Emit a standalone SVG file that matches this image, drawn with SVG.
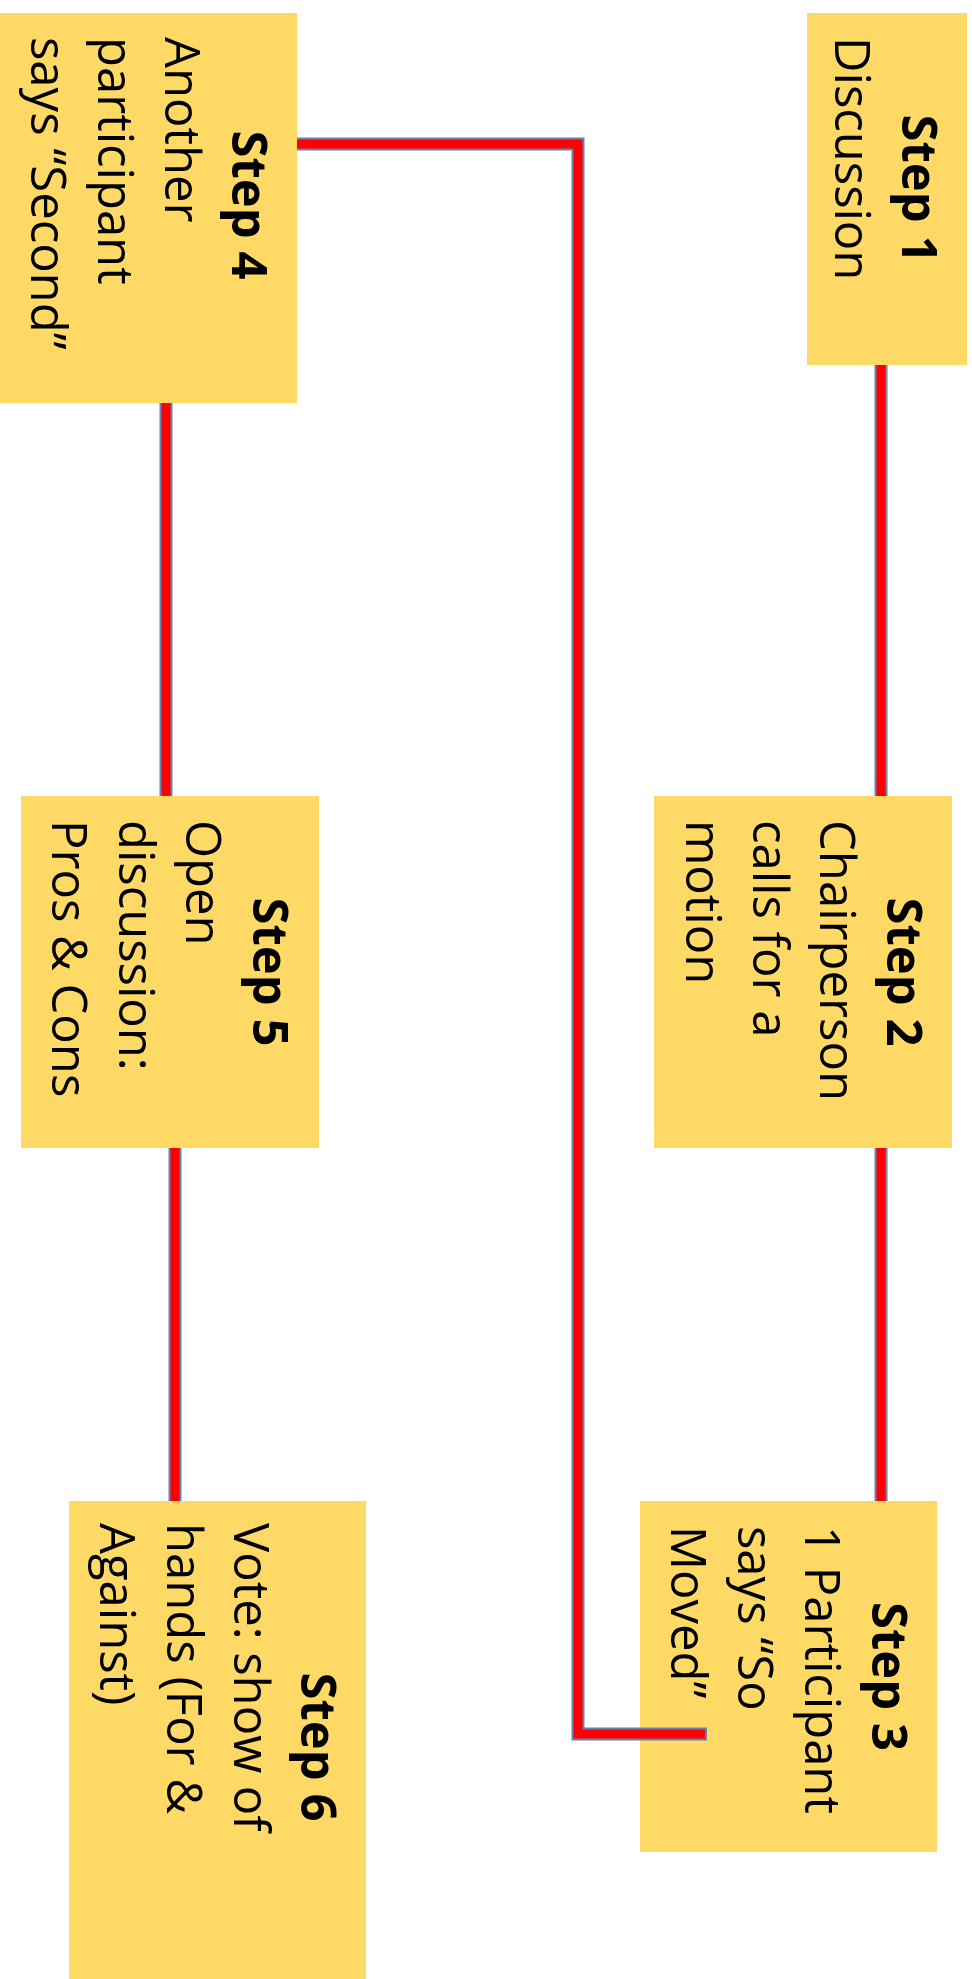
<svg xmlns="http://www.w3.org/2000/svg" width="972" height="1979" viewBox="0 0 972 1979">
<style>
.box{fill:#FFD966;}
.t{font-family:"Open Sans","Noto Sans",sans-serif;font-size:49px;fill:#000;}
.h{font-weight:bold;text-anchor:middle;}
.edge-o{fill:none;stroke:#6283ad;stroke-width:13;stroke-linejoin:miter;}
.edge-i{fill:none;stroke:#ff0000;stroke-width:9;stroke-linejoin:miter;}
</style>
<rect width="972" height="1979" fill="#ffffff"/>
<g id="step1">
<rect class="box" x="807" y="13" width="160" height="352"/>
<text class="t h" transform="translate(902,189) rotate(90)">Step 1</text>
<text class="t" transform="translate(835,37) rotate(90)">Discussion</text>
</g>
<g id="step2">
<rect class="box" x="654" y="796" width="298" height="352"/>
<text class="t h" transform="translate(887,972) rotate(90)">Step 2</text>
<text class="t" transform="translate(820,820) rotate(90)">Chairperson</text>
<text class="t" transform="translate(753,820) rotate(90)">calls for a</text>
<text class="t" transform="translate(686,820) rotate(90)">motion</text>
</g>
<g id="step3">
<rect class="box" x="640" y="1501" width="297" height="351"/>
<text class="t h" transform="translate(872,1676.5) rotate(90)">Step 3</text>
<text class="t" transform="translate(805,1526) rotate(90)">1 Participant</text>
<text class="t" transform="translate(738,1526) rotate(90)">says “So</text>
<text class="t" transform="translate(671,1526) rotate(90)">Moved”</text>
</g>
<g id="step4">
<rect class="box" x="0" y="13" width="297" height="390"/>
<text class="t h" transform="translate(232,205) rotate(90)">Step 4</text>
<text class="t" transform="translate(165,37) rotate(90)">Another</text>
<text class="t" transform="translate(98,37) rotate(90)">participant</text>
<text class="t" transform="translate(31,37) rotate(90)">says “Second”</text>
</g>
<g id="step5">
<rect class="box" x="21" y="796" width="298" height="352"/>
<text class="t h" transform="translate(253,972) rotate(90)">Step 5</text>
<text class="t" transform="translate(186,820) rotate(90)">Open</text>
<text class="t" transform="translate(119,820) rotate(90)">discussion:</text>
<text class="t" transform="translate(52,820) rotate(90)">Pros &amp; Cons</text>
</g>
<g id="step6">
<rect class="box" x="69" y="1501" width="297" height="492"/>
<text class="t h" transform="translate(301,1747) rotate(90)">Step 6</text>
<text class="t" transform="translate(234,1523) rotate(90)">Vote: show of</text>
<text class="t" transform="translate(167,1523) rotate(90)">hands (For &amp;</text>
<text class="t" transform="translate(100,1523) rotate(90)">Against)</text>
</g>
<g id="connectors">
<path class="edge-o" d="M881,365 V796"/>
<path class="edge-i" d="M881,365 V796"/>
<path class="edge-o" d="M881,1148 V1501"/>
<path class="edge-i" d="M881,1148 V1501"/>
<path class="edge-o" d="M297,144 H578 V1734 H707"/>
<path class="edge-i" d="M297,144 H578 V1734 H705"/>
<path class="edge-o" d="M166,403 V796"/>
<path class="edge-i" d="M166,403 V796"/>
<path class="edge-o" d="M175,1148 V1501"/>
<path class="edge-i" d="M175,1148 V1501"/>
</g>
</svg>
